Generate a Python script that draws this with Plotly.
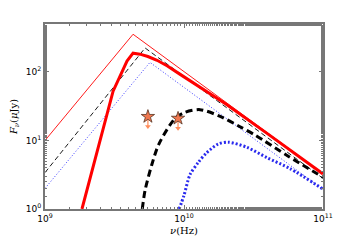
import plotly.graph_objects as go

# thin broken power laws
nu_red_thin = [1e9, 4.30e9, 1e11]
f_red_thin = [10.0, 355.0, 3.3]
nu_blk_thin = [1e9, 5.25e9, 1e11]
f_blk_thin = [3.4, 224.0, 2.8]
nu_blu_thin = [1e9, 5.69e9, 1e11]
f_blu_thin = [2.0, 138.0, 1.93]

# thick curves
nu_red_thick = [1.845e9, 2.239e9, 2.692e9, 3.09e9, 3.89e9, 4.30e9, 4.82e9, 5.5e9, 6.40e9, 7.6e9, 9.33e9, 1.371e10, 2.0e10, 3.98e10, 1e11]
f_red_thick = [1.0, 4.47, 19.5, 52.5, 144.5, 188.0, 182.0, 168.0, 148.0, 122.0, 93.0, 56.0, 34.0, 12.6, 3.25]
nu_blk_thick = [5.01e9, 5.25e9, 5.85e9, 6.61e9, 8.61e9, 1.016e10, 1.303e10, 1.82e10, 2.51e10, 3.24e10, 5.62e10, 1e11]
f_blk_thick = [1.0, 1.88, 4.35, 8.95, 20.9, 25.7, 28.2, 22.5, 16.0, 12.0, 5.9, 2.9]
nu_blu_thick = [9.23e9, 1.0e10, 1.104e10, 1.268e10, 1.455e10, 1.766e10, 2.09e10, 2.84e10, 3.95e10, 5.79e10, 1e11]
f_blu_thick = [1.0, 1.58, 3.16, 4.79, 6.61, 8.91, 9.44, 7.94, 5.62, 3.89, 1.95]

# upper limits (stars)
nu_obs = [5.5e9, 9.06e9]
f_obs = [22.3, 21.0]
arrow_factor = 0.72

x_tickvals = [1e9, 1e10, 1e11]
x_ticktext = ["10<sup>9</sup>", "10<sup>10</sup>", "10<sup>11</sup>"]
y_tickvals = [1, 10, 100]
y_ticktext = ["10<sup>0</sup>", "10<sup>1</sup>", "10<sup>2</sup>"]

fig = go.Figure()
fig.add_trace(go.Scatter(x=nu_red_thin, y=f_red_thin, mode="lines",
                         line=dict(color="#ff0000", width=0.9)))
fig.add_trace(go.Scatter(x=nu_blk_thin, y=f_blk_thin, mode="lines",
                         line=dict(color="black", width=0.9, dash="5px,3px")))
fig.add_trace(go.Scatter(x=nu_blu_thin, y=f_blu_thin, mode="lines",
                         line=dict(color="#3a3aff", width=1, dash="1px,2px")))
fig.add_trace(go.Scatter(x=nu_red_thick, y=f_red_thick, mode="lines",
                         line=dict(color="#ff0000", width=3)))
fig.add_trace(go.Scatter(x=nu_blk_thick, y=f_blk_thick, mode="lines",
                         line=dict(color="black", width=3, dash="7px,4px", shape="spline", smoothing=0.8)))
fig.add_trace(go.Scatter(x=nu_blu_thick, y=f_blu_thick, mode="lines",
                         line=dict(color="#2a2aee", width=3, dash="2px,2px", shape="spline", smoothing=0.8)))

# arrows for upper limits
for n, f in zip(nu_obs, f_obs):
    fig.add_trace(go.Scatter(x=[n, n], y=[f, f * arrow_factor], mode="lines",
                             line=dict(color="#ff8c5a", width=1.2)))
fig.add_trace(go.Scatter(x=nu_obs, y=[f * arrow_factor for f in f_obs], mode="markers",
                         marker=dict(symbol="triangle-down", size=5, color="#ff8c5a")))
fig.add_trace(go.Scatter(x=nu_obs, y=f_obs, mode="markers",
                         marker=dict(symbol="star", size=10, color="#f07850",
                                     line=dict(color="#553322", width=0.8))))

axis_common = dict(showgrid=False, zeroline=False, showline=True, linecolor="#777777",
                   linewidth=2, mirror="ticks", ticks="inside", ticklen=4, tickwidth=0.8,
                   tickcolor="#777777", automargin=False,
                   minor=dict(ticks="inside", ticklen=2, tickwidth=0.6, tickcolor="#777777", showgrid=False),
                   tickfont=dict(family="DejaVu Sans", size=9, color="black"))

fig.update_xaxes(type="log", range=[9, 11], tickvals=x_tickvals, ticktext=x_ticktext,
                 title=dict(text="<i>ν</i>(Hz)", font=dict(family="DejaVu Serif", size=10, color="black"), standoff=4),
                 **axis_common)
fig.update_yaxes(type="log", range=[0, 2.7], tickvals=y_tickvals, ticktext=y_ticktext,
                 title=dict(text="<i>F</i><sub><i>ν</i></sub>(<i>μ</i>Jy)", font=dict(family="DejaVu Serif", size=10, color="black"), standoff=6),
                 **axis_common)

# page body has an 8px default margin; offset margins to compensate
fig.update_layout(width=360, height=240, showlegend=False,
                  margin=dict(l=37, r=45, t=16, b=39),
                  plot_bgcolor="white", paper_bgcolor="white")

fig.write_html("out.html")
